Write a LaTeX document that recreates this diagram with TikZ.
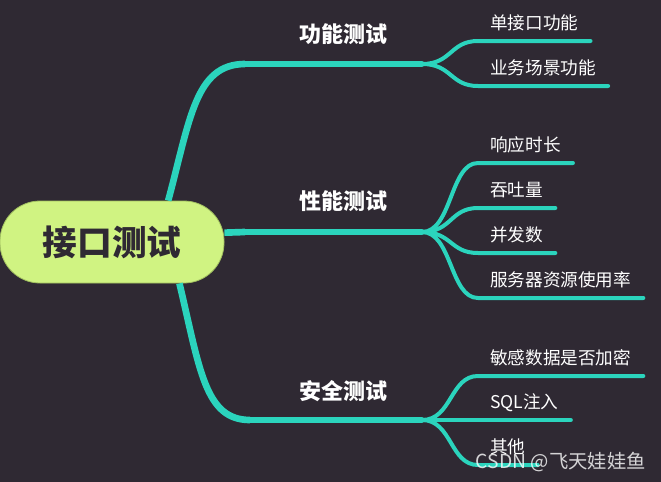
\documentclass[tikz,border=0pt]{standalone}
\usepackage{fontspec}
\newfontfamily\cjk{Noto Sans CJK SC}
\usetikzlibrary{calc}
\definecolor{bgdark}{RGB}{47,41,51}
\definecolor{teal}{RGB}{43,212,189}
\definecolor{lime}{RGB}{208,243,130}
\definecolor{limeedge}{RGB}{160,190,95}

\begin{document}
\begin{tikzpicture}[x=0.75pt, y=-0.75pt,
        root/.style={rectangle, rounded corners=30pt, fill=lime, draw=limeedge, line width=0.6pt,
            minimum width=168pt, minimum height=61.5pt, text=bgdark,
            font=\cjk\bfseries\fontsize{26}{26}\selectfont},
        topic/.style={text=white, font=\cjk\bfseries\fontsize{16.5}{16.5}\selectfont},
        leaf/.style={anchor=south west, inner xsep=9pt, inner ysep=0pt, text depth=8.2pt,
            text=white, font=\cjk\fontsize{13.2}{13.2}\selectfont},
        trunk/.style={teal, line width=5pt},
        limb/.style={teal, line width=3.8pt, line cap=round},
        twig/.style={teal, line width=3pt, line cap=round}]
        \useasboundingbox[fill=bgdark] (0,0) rectangle (661,482);
        \node[root] (root) at (112,242) {接口测试};
        \coordinate (F1) at (422,64);
        \coordinate (F2) at (422,232);
        \coordinate (F3) at (422,420);
        \draw[trunk] ($(root.north)!0.5!(root.north east)$) .. controls (190,120) and (195,64) .. (245,64);
        \draw[limb] (245,64) -- (F1);
        \draw[trunk] ([yshift=7pt]root.east) -- (245,232);
        \draw[limb] (245,232) -- (F2);
        \draw[trunk] ($(root.south)!0.6!(root.south east)$) .. controls (200,370) and (205,420) .. (250,420);
        \draw[limb] (250,420) -- (F3);
        \node[topic] (t1) at (343,34) {功能测试};
        \node[topic] (t2) at (343,201) {性能测试};
        \node[topic] (t3) at (343,391) {安全测试};
        \node[leaf] (a1) at (478,41) {单接口功能};
        \node[leaf] (a2) at (478,86) {业务场景功能};
        \node[leaf] (b1) at (478,163) {响应时长};
        \node[leaf] (b2) at (478,208) {吞吐量};
        \node[leaf] (b3) at (478,253) {并发数};
        \node[leaf] (b4) at (478,298) {服务器资源使用率};
        \node[leaf] (c1) at (478,376) {敏感数据是否加密};
        \node[leaf] (c2) at (478,420) {SQL注入};
        \node[leaf] (c3) at (478,465) {其他};
        \foreach \n in {a1,a2}
            \draw[twig] (F1) .. controls +(30,0) and +(-28,0) .. (\n.south west) -- (\n.south east);
        \foreach \n in {b1,b2,b3,b4}
            \draw[twig] (F2) .. controls +(30,0) and +(-28,0) .. (\n.south west) -- (\n.south east);
        \foreach \n in {c1,c2,c3}
            \draw[twig] (F3) .. controls +(30,0) and +(-28,0) .. (\n.south west) -- (\n.south east);
        \node[anchor=east, text=white, opacity=0.8, inner sep=0pt, font=\cjk\fontsize{14.5}{14.5}\selectfont] (wm) at (646,462) {CSDN @飞天娃娃鱼};
    \end{tikzpicture}
\end{document}
